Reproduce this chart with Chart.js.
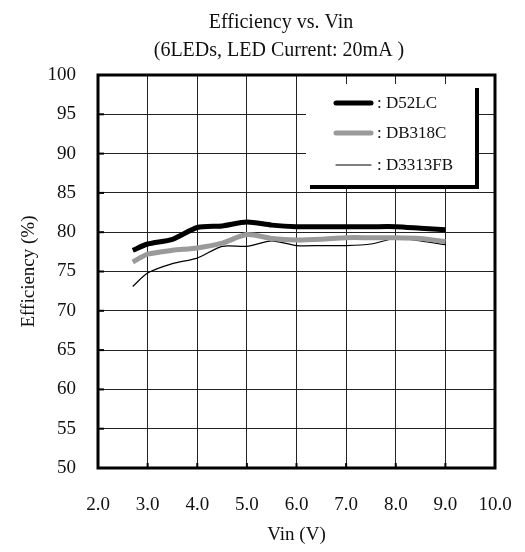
<!DOCTYPE html>
<html>
<head>
    <title>Efficiency vs. Vin</title>
    <script src="https://cdn.jsdelivr.net/npm/chart.js"></script>
    <style>
        html, body {
            margin: 0;
            padding: 0;
            background: #fff;
        }
        .chart-container {
            width: 525px;
            height: 552px;
            position: relative;
        }
    </style>
</head>
<body>
    <div class="chart-container">
        <canvas id="effChart"></canvas>
    </div>

    <script>
        // Input voltage (V)
        const vin = [2.7, 3.0, 3.5, 4.0, 4.5, 5.0, 5.5, 6.0, 6.5, 7.0, 7.5, 8.0, 8.5, 9.0];

        // Efficiency (%) per part
        const effD52LC   = [77.7, 78.5, 79.1, 80.6, 80.8, 81.3, 80.9, 80.7, 80.7, 80.7, 80.7, 80.7, 80.5, 80.3];
        const effDB318C  = [76.2, 77.2, 77.7, 78.0, 78.6, 79.7, 79.2, 79.0, 79.1, 79.3, 79.3, 79.3, 79.2, 78.8];
        const effD3313FB = [73.1, 74.8, 76.0, 76.7, 78.2, 78.2, 78.9, 78.3, 78.3, 78.3, 78.5, 79.2, 78.9, 78.4];

        const titleLines = ['Efficiency vs. Vin', '(6LEDs, LED Current: 20mA )'];

        const serif = "'Liberation Serif', 'Times New Roman', serif";
        const ink = '#111';

        const toPoints = ys => ys.map((y, i) => ({ x: vin[i], y: y }));

        // two-line heading above the plot
        const headingPlugin = {
            id: 'heading',
            afterDraw(chart) {
                const ctx = chart.ctx;
                ctx.save();
                ctx.fillStyle = ink;
                ctx.font = '20px ' + serif;
                ctx.textAlign = 'center';
                ctx.textBaseline = 'middle';
                ctx.fillText(titleLines[0], 281, 23);
                ctx.fillText(titleLines[1], 279, 51);
                ctx.restore();
            }
        };

        // heavy frame round the plot area plus short inner tick marks
        const framePlugin = {
            id: 'frame',
            beforeDatasetsDraw(chart) {
                const { ctx, chartArea: a, scales } = chart;
                ctx.save();
                ctx.strokeStyle = '#000';
                ctx.lineWidth = 2;
                scales.y.ticks.forEach(t => {
                    const py = scales.y.getPixelForValue(t.value);
                    ctx.beginPath();
                    ctx.moveTo(a.left, py);
                    ctx.lineTo(a.left + 6, py);
                    ctx.stroke();
                });
                scales.x.ticks.forEach(t => {
                    const px = scales.x.getPixelForValue(t.value);
                    ctx.beginPath();
                    ctx.moveTo(px, a.bottom);
                    ctx.lineTo(px, a.bottom - 5);
                    ctx.stroke();
                });
                ctx.lineWidth = 3;
                ctx.strokeRect(a.left, a.top, a.right - a.left, a.bottom - a.top);
                ctx.restore();
            }
        };

        // boxed legend with a drop shadow, inside the plot's upper right
        const boxLegendPlugin = {
            id: 'boxLegend',
            afterDatasetsDraw(chart) {
                const ctx = chart.ctx;
                const x0 = 306, y0 = 84, w = 169, h = 101;
                ctx.save();
                ctx.fillStyle = '#000';
                ctx.fillRect(x0 + 4, y0 + 4, w, h);
                ctx.fillStyle = '#fff';
                ctx.fillRect(x0, y0, w, h);

                const rows = [103, 133, 165];
                ctx.font = '17px ' + serif;
                ctx.textBaseline = 'middle';
                ctx.textAlign = 'left';
                chart.data.datasets.forEach((ds, i) => {
                    ctx.strokeStyle = ds.borderColor;
                    ctx.lineWidth = ds.borderWidth;
                    ctx.lineCap = 'round';
                    ctx.beginPath();
                    ctx.moveTo(336, rows[i]);
                    ctx.lineTo(371, rows[i]);
                    ctx.stroke();
                    ctx.fillStyle = ink;
                    ctx.fillText(': ' + ds.label, 377, rows[i] + 1);
                });
                ctx.restore();
            }
        };

        const ctx = document.getElementById('effChart').getContext('2d');
        const chart = new Chart(ctx, {
            type: 'line',
            data: {
                datasets: [
                    {
                        label: 'D52LC',
                        data: toPoints(effD52LC),
                        borderColor: '#000',
                        borderWidth: 5,
                        pointRadius: 0,
                        tension: 0.25,
                        fill: false
                    },
                    {
                        label: 'DB318C',
                        data: toPoints(effDB318C),
                        borderColor: '#9a9a9a',
                        borderWidth: 5,
                        pointRadius: 0,
                        tension: 0.25,
                        fill: false
                    },
                    {
                        label: 'D3313FB',
                        data: toPoints(effD3313FB),
                        borderColor: '#000',
                        borderWidth: 1.2,
                        pointRadius: 0,
                        tension: 0.25,
                        fill: false
                    }
                ]
            },
            plugins: [framePlugin, boxLegendPlugin, headingPlugin],
            options: {
                responsive: true,
                maintainAspectRatio: false,
                animation: false,
                layout: {
                    padding: { top: 75, right: 30, left: 0, bottom: 0 }
                },
                plugins: {
                    legend: { display: false },
                    title: { display: false },
                    tooltip: { enabled: false }
                },
                scales: {
                    x: {
                        type: 'linear',
                        min: 2,
                        max: 10,
                        afterFit(scale) { scale.height = 84; },
                        border: { display: false },
                        grid: {
                            color: '#222',
                            lineWidth: 1,
                            drawTicks: true,
                            tickLength: 14,
                            tickColor: 'rgba(0,0,0,0)'
                        },
                        ticks: {
                            stepSize: 1,
                            padding: 12,
                            color: ink,
                            font: { family: serif, size: 19 },
                            maxRotation: 0,
                            callback: v => v.toFixed(1)
                        },
                        title: {
                            display: true,
                            text: 'Vin (V)',
                            color: ink,
                            font: { family: serif, size: 19 },
                            padding: { top: 0, bottom: 6 }
                        }
                    },
                    y: {
                        min: 50,
                        max: 100,
                        afterFit(scale) { scale.width = 98; },
                        border: { display: false },
                        grid: {
                            color: '#222',
                            lineWidth: 1,
                            drawTicks: false
                        },
                        ticks: {
                            stepSize: 5,
                            padding: 22,
                            color: ink,
                            font: { family: serif, size: 19 }
                        },
                        title: {
                            display: true,
                            text: 'Efficiency (%)',
                            color: ink,
                            font: { family: serif, size: 19 },
                            padding: { top: 18, bottom: 0 }
                        }
                    }
                }
            }
        });
    </script>
</body>
</html>
